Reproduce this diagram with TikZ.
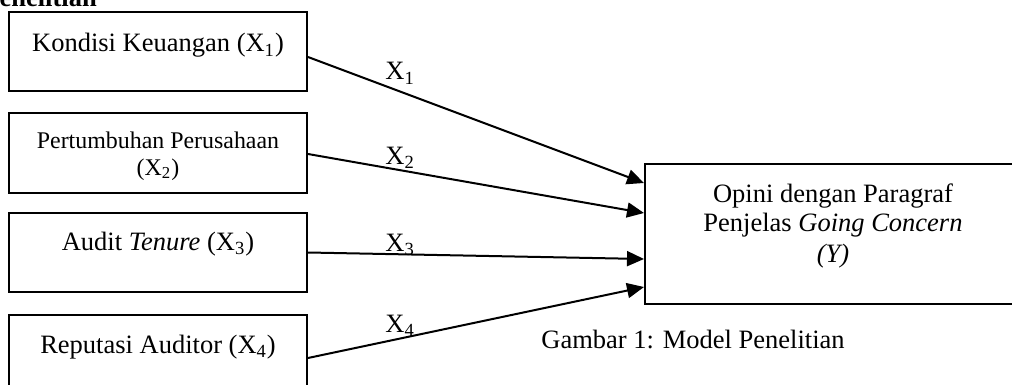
\documentclass[tikz,border=0pt]{standalone}
\usepackage{fontspec}
\setmainfont{Liberation Serif}
\usetikzlibrary{arrows.meta,calc}
\begin{document}
\begin{tikzpicture}[x=0.5pt,y=-0.5pt,
  box/.style={draw, line width=1pt, minimum width=149pt, minimum height=39.5pt, inner sep=0pt},
  txt/.style={inner sep=0pt, font=\fontsize{13.25}{14.5}\selectfont},
  smalltxt/.style={inner sep=0pt, align=center, font=\fontsize{11.95}{13.5}\selectfont},
  conn/.style={line width=1pt, -{Triangle[length=8.5pt,width=7.5pt]}},
  lab/.style={inner sep=0pt, anchor=base west, font=\fontsize{13.25}{14.5}\selectfont}]
\useasboundingbox (0,0) rectangle (1012,385);
\clip (0,0) rectangle (1012,385);

% title (cut off at the top edge, as in the source)
\node[txt, anchor=base west, font=\fontsize{13.25}{14.5}\selectfont\bfseries] (title) at (-17,7) {Penelitian};

% left boxes
\node[box] (k1) at (158,51.5) {};
\node[box] (k2) at (158,153) {};
\node[box] (k3) at (158,252.5) {};
\node[box] (k4) at (158,354.5) {};

\node[txt, anchor=base] (t1) at (158,52) {Kondisi Keuangan (X\textsubscript{1})};
\node[smalltxt, anchor=center] (t2) at (158,156) {Pertumbuhan Perusahaan\\(X\textsubscript{2})};
\node[txt, anchor=base] (t3) at (158,250) {Audit \textit{Tenure} (X\textsubscript{3})};
\node[txt, anchor=base] (t4) at (158,353) {Reputasi Auditor (X\textsubscript{4})};

% right box
\node[box, minimum width=188pt, minimum height=70pt] (y) at (833,234) {};
\node[txt, anchor=base, align=center] (ty) at (833,262) {Opini dengan Paragraf\\Penjelas \textit{Going Concern}\\[1pt]\textit{(Y)}};

% connectors
\draw[conn] ($(k1.east)+(0,5.5)$) -- ($(y.west)+(0,-51)$);
\draw[conn] ($(k2.east)+(0,1)$) -- ($(y.west)+(0,-21)$);
\draw[conn] ($(k3.east)+(0,0)$) -- ($(y.west)+(0,25)$);
\draw[conn] ($(k4.east)+(0,3.5)$) -- ($(y.west)+(0,53)$);

% labels
\node[lab] (x1) at (385,80) {X\textsubscript{1}};
\node[lab] (x2) at (385,164) {X\textsubscript{2}};
\node[lab] (x3) at (385,251) {X\textsubscript{3}};
\node[lab] (x4) at (385,332) {X\textsubscript{4}};

% caption
\node[txt, anchor=base] (cap) at (693,348) {Gambar 1: Model Penelitian};
\end{tikzpicture}
\end{document}
